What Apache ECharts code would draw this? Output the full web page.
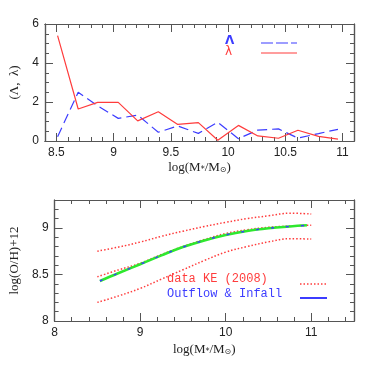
<!DOCTYPE html>
<html>
<head>
<meta charset="utf-8">
<script src="https://cdn.jsdelivr.net/npm/echarts@6/dist/echarts.min.js"></script>
<style>
  html, body { margin: 0; padding: 0; background: #fff; }
  #chart { width: 374px; height: 374px; }
</style>
</head>
<body>
<div id="chart"></div>
<script>
// top panel: Lambda / lambda vs stellar mass
const binMass = [8.51, 8.69, 8.86, 9.04, 9.21, 9.39, 9.56, 9.74, 9.91, 10.09, 10.26, 10.44, 10.61, 10.79, 10.96]
const bigLambda = [0.22, 2.5, 1.8, 1.16, 1.33, 0.45, 0.77, 0.39, 0.96, 0.12, 0.56, 0.62, 0.15, 0.38, 0.6]
const smallLambda = [5.4, 1.64, 1.98, 1.98, 1.03, 1.5, 0.85, 0.94, 0.04, 0.8, 0.26, 0.14, 0.55, 0.24, 0.1]
const topXLabels = [8.5, 9, 9.5, 10, 10.5, 11]
const topYLabels = [0, 2, 4, 6]

// bottom panel: mass-metallicity
const keMass = [8.5, 8.75, 9, 9.25, 9.5, 9.75, 10, 10.25, 10.5, 10.75, 11]
const keUpper = [8.75, 8.795, 8.848, 8.91, 8.965, 9.015, 9.06, 9.1, 9.13, 9.158, 9.15]
const keMid = [8.475, 8.55, 8.62, 8.715, 8.8, 8.875, 8.94, 8.98, 9.007, 9.02, 9.03]
const keLower = [8.2, 8.27, 8.35, 8.45, 8.55, 8.65, 8.74, 8.8, 8.85, 8.885, 8.88]
const modelMass = [8.53, 8.75, 9, 9.25, 9.5, 9.75, 10, 10.25, 10.5, 10.75, 10.95]
const modelOH = [8.43, 8.516, 8.61, 8.705, 8.794, 8.866, 8.925, 8.967, 8.996, 9.016, 9.028]
const botXLabels = [8, 9, 10, 11]
const botYLabels = [8, 8.5, 9]

const RED = '#ff3c3c'
const BLUE = '#3c3cff'
const GREEN = '#2ee82e'
const AXIS = '#555'

const steps = (a, b, s) => {
  const out = []
  for (let v = a; v <= b + 1e-9; v += s) out.push(Math.round(v * 1000) / 1000)
  return out
}
const pair = arr => arr[0].map((x, i) => [x, arr[1][i]])

const labelStyle = { fontFamily: 'Liberation Sans', fontSize: 12, color: '#222' }
const nameRich = {
  n: { fontFamily: 'Liberation Serif', fontSize: 13, color: '#222', verticalAlign: 'bottom' },
  s: { fontFamily: 'DejaVu Sans', fontSize: 8, color: '#222', verticalAlign: 'bottom' }
}
const massName = '{n|log(M}{s|*}{n|/M}{s|⊙}{n|)}'

// one axis = line + ticks (+ labels); major and minor ticks are separate axes
const mkAxis = (grid, pos, min, max, ticks, len, labels, name, nameGap) => ({
  gridIndex: grid, type: 'value', position: pos, min: min, max: max,
  axisLine: { show: true, onZero: false, lineStyle: { color: AXIS, width: 1.2 } },
  axisTick: { show: true, inside: true, length: len, customValues: ticks, lineStyle: { color: AXIS, width: 1 } },
  axisLabel: labels ? Object.assign({ customValues: labels, margin: 6 }, labelStyle) : { show: false },
  splitLine: { show: false },
  name: name || '', nameLocation: 'middle', nameGap: nameGap || 0,
  nameRotate: (pos === 'left' && name) ? 90 : null,
  nameTextStyle: { rich: nameRich, fontFamily: 'Liberation Serif', fontSize: 13, color: '#222' }
})

const xAxes = [
  mkAxis(0, 'bottom', 8.4, 11.1, topXLabels, 8, topXLabels, massName, 20),
  mkAxis(0, 'bottom', 8.4, 11.1, steps(8.4, 11.1, 0.1), 4),
  mkAxis(0, 'top', 8.4, 11.1, topXLabels, 8),
  mkAxis(0, 'top', 8.4, 11.1, steps(8.4, 11.1, 0.1), 4),
  mkAxis(1, 'bottom', 8, 11.5, botXLabels, 8, botXLabels, massName, 22),
  mkAxis(1, 'bottom', 8, 11.5, steps(8, 11.5, 0.2), 4),
  mkAxis(1, 'top', 8, 11.5, botXLabels, 8),
  mkAxis(1, 'top', 8, 11.5, steps(8, 11.5, 0.2), 4)
]
const yAxes = [
  mkAxis(0, 'left', 0, 6, topYLabels, 8, topYLabels, '{n|(Λ,  λ)}', 24),
  mkAxis(0, 'left', 0, 6, steps(0, 6, 0.5), 4),
  mkAxis(0, 'right', 0, 6, topYLabels, 8),
  mkAxis(0, 'right', 0, 6, steps(0, 6, 0.5), 4),
  mkAxis(1, 'left', 8, 9.3, botYLabels, 8, botYLabels, '{n|log(O/H)+12}', 32),
  mkAxis(1, 'left', 8, 9.3, steps(8, 9.3, 0.1), 4),
  mkAxis(1, 'right', 8, 9.3, botYLabels, 8),
  mkAxis(1, 'right', 8, 9.3, steps(8, 9.3, 0.1), 4)
]

const line = (xi, data, color, type, width, smooth) => ({
  type: 'line', xAxisIndex: xi, yAxisIndex: xi, data: data,
  showSymbol: false, smooth: smooth || false, silent: true, animation: false,
  lineStyle: { color: color, type: type, width: width }
})

const chart = echarts.init(document.getElementById('chart'))
const option = {
  animation: false,
  grid: [
    { left: 41, top: 24, width: 313, height: 117 },
    { left: 41, top: 200, width: 313, height: 121 }
  ],
  xAxis: xAxes,
  yAxis: yAxes,
  series: [
    line(0, pair([binMass, bigLambda]), BLUE, [10, 5], 1.2),
    line(0, pair([binMass, smallLambda]), RED, 'solid', 1.2),
    line(4, pair([keMass, keUpper]), RED, [1.5, 2], 1.5, 0.4),
    line(4, pair([keMass, keMid]), RED, [1.5, 2], 1.5, 0.4),
    line(4, pair([keMass, keLower]), RED, [1.5, 2], 1.5, 0.4),
    line(4, pair([modelMass, modelOH]), GREEN, 'solid', 2.6, 0.4),
    line(4, pair([modelMass, modelOH]), BLUE, [3, 12], 1.5, 0.4)
  ],
  graphic: [
    // top legend
    { type: 'text', left: 225, top: 35, style: { text: 'Λ', fill: BLUE, font: 'bold 12px "DejaVu Sans"' } },
    { type: 'text', left: 225, top: 46, style: { text: 'λ', fill: RED, font: '12px "DejaVu Sans"' } },
    { type: 'line', shape: { x1: 261, y1: 43, x2: 297, y2: 43 }, style: { stroke: BLUE, lineWidth: 1.2, lineDash: [12, 3] } },
    { type: 'line', shape: { x1: 261, y1: 53, x2: 297, y2: 53 }, style: { stroke: RED, lineWidth: 1.2 } },
    // bottom legend
    { type: 'text', left: 167, top: 273, style: { text: 'data KE (2008)', fill: RED, font: '12px "Liberation Mono"' } },
    { type: 'text', left: 167, top: 288, style: { text: 'Outflow & Infall', fill: BLUE, font: '12px "Liberation Mono"' } },
    { type: 'line', shape: { x1: 300, y1: 284, x2: 327, y2: 284 }, style: { stroke: RED, lineWidth: 1.5, lineDash: [1.5, 2] } },
    { type: 'line', shape: { x1: 300, y1: 298, x2: 327, y2: 298 }, style: { stroke: BLUE, lineWidth: 2 } }
  ]
}
chart.setOption(option)
</script>
</body>
</html>
